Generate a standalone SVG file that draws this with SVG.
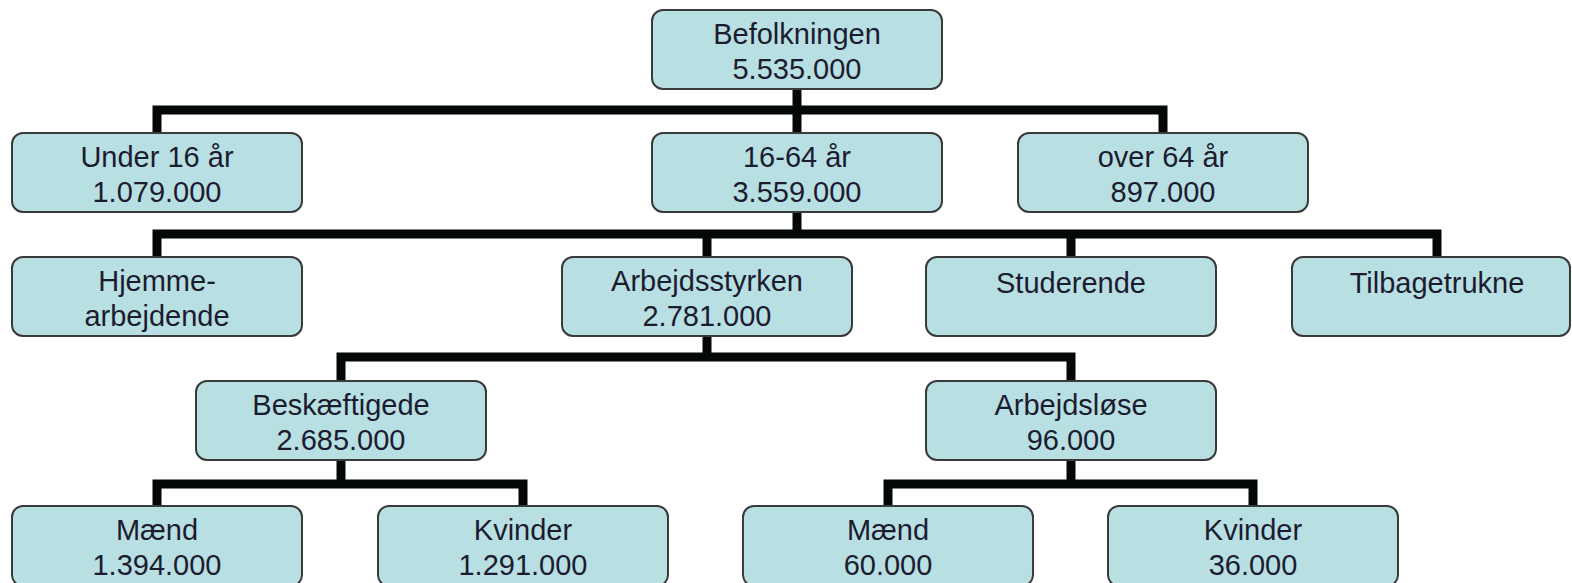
<svg xmlns="http://www.w3.org/2000/svg" width="1572" height="583" viewBox="0 0 1572 583">
<style>
.box{fill:#b8dfe2;stroke:#3a3a3a;stroke-width:2}
.t{font-family:"Liberation Sans",Arial,sans-serif;font-size:29px;fill:#1c1c30;text-anchor:middle}
.c{fill:none;stroke:#050808;stroke-width:9;stroke-linejoin:miter;stroke-linecap:butt}
</style>
<rect width="1572" height="583" fill="#ffffff"/>
<g id="connectors" class="c">
<path d="M157,133 V110 H1163 V133"/>
<path d="M797,88 V133"/>
<path d="M157,257 V234 H1437 V257"/>
<path d="M797,212 V234"/>
<path d="M707,234 V257"/>
<path d="M1071,234 V257"/>
<path d="M341,381 V357 H1071 V381"/>
<path d="M707,336 V357"/>
<path d="M157,506 V484 H523 V506"/>
<path d="M341,460 V484"/>
<path d="M888,506 V484 H1253 V506"/>
<path d="M1071,460 V484"/>
</g>
<g id="befolkningen"><rect class="box" x="652" y="10" width="290" height="79" rx="11"/><text class="t" x="797" y="44">Befolkningen</text><text class="t" x="797" y="79">5.535.000</text></g>
<g id="under16"><rect class="box" x="12" y="133" width="290" height="79" rx="11"/><text class="t" x="157" y="167">Under 16 år</text><text class="t" x="157" y="202">1.079.000</text></g>
<g id="a16-64"><rect class="box" x="652" y="133" width="290" height="79" rx="11"/><text class="t" x="797" y="167">16-64 år</text><text class="t" x="797" y="202">3.559.000</text></g>
<g id="over64"><rect class="box" x="1018" y="133" width="290" height="79" rx="11"/><text class="t" x="1163" y="167">over 64 år</text><text class="t" x="1163" y="202">897.000</text></g>
<g id="hjemme"><rect class="box" x="12" y="257" width="290" height="79" rx="11"/><text class="t" x="157" y="291">Hjemme-</text><text class="t" x="157" y="326">arbejdende</text></g>
<g id="arbejdsstyrken"><rect class="box" x="562" y="257" width="290" height="79" rx="11"/><text class="t" x="707" y="291">Arbejdsstyrken</text><text class="t" x="707" y="326">2.781.000</text></g>
<g id="studerende"><rect class="box" x="926" y="257" width="290" height="79" rx="11"/><text class="t" x="1071" y="293">Studerende</text></g>
<g id="tilbagetrukne"><rect class="box" x="1292" y="257" width="278" height="79" rx="11"/><text class="t" x="1437" y="293">Tilbagetrukne</text></g>
<g id="beskaeftigede"><rect class="box" x="196" y="381" width="290" height="79" rx="11"/><text class="t" x="341" y="415">Beskæftigede</text><text class="t" x="341" y="450">2.685.000</text></g>
<g id="arbejdsloese"><rect class="box" x="926" y="381" width="290" height="79" rx="11"/><text class="t" x="1071" y="415">Arbejdsløse</text><text class="t" x="1071" y="450">96.000</text></g>
<g id="maend1"><rect class="box" x="12" y="506" width="290" height="80" rx="11"/><text class="t" x="157" y="540">Mænd</text><text class="t" x="157" y="575">1.394.000</text></g>
<g id="kvinder1"><rect class="box" x="378" y="506" width="290" height="80" rx="11"/><text class="t" x="523" y="540">Kvinder</text><text class="t" x="523" y="575">1.291.000</text></g>
<g id="maend2"><rect class="box" x="743" y="506" width="290" height="80" rx="11"/><text class="t" x="888" y="540">Mænd</text><text class="t" x="888" y="575">60.000</text></g>
<g id="kvinder2"><rect class="box" x="1108" y="506" width="290" height="80" rx="11"/><text class="t" x="1253" y="540">Kvinder</text><text class="t" x="1253" y="575">36.000</text></g>
</svg>
